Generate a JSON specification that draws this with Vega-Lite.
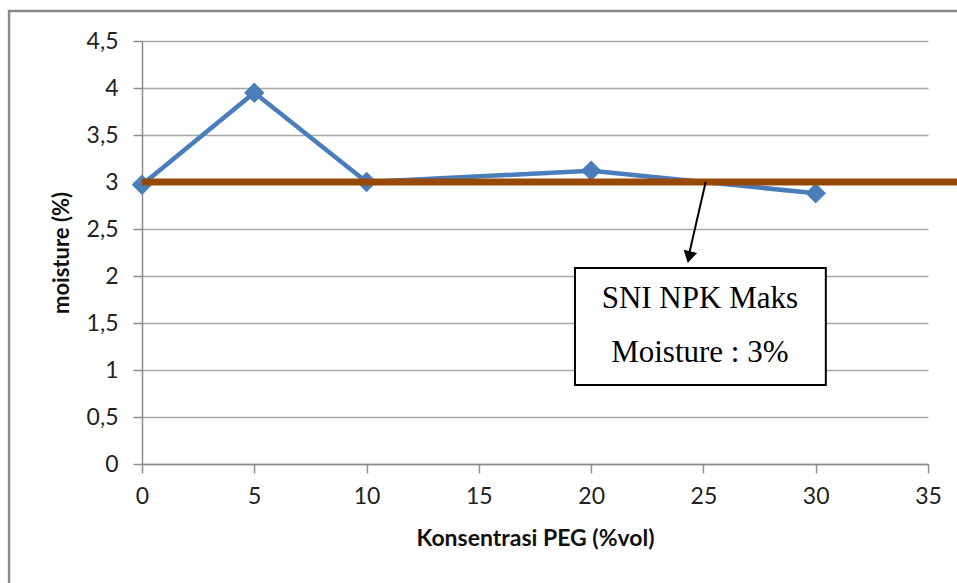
{
  "$schema": "https://vega.github.io/schema/vega-lite/v6.json",
  "autosize": "none",
  "width": 786,
  "height": 423,
  "padding": {"left": 142, "top": 41, "right": 29, "bottom": 119},
  "background": "white",
  "config": {
    "view": {"stroke": null},
    "axis": {
      "labelFont": "Lato",
      "titleFont": "Lato",
      "labelColor": "#222",
      "titleColor": "#111",
      "domainColor": "#8c8c8c",
      "tickColor": "#8c8c8c",
      "domainWidth": 1.5,
      "tickWidth": 1.5,
      "tickSize": 9,
      "labelFlush": false
    }
  },
  "datasets": {
    "moisture": [
      {"peg": 0, "moisture": 2.97},
      {"peg": 5, "moisture": 3.95},
      {"peg": 10, "moisture": 3.0},
      {"peg": 20, "moisture": 3.12},
      {"peg": 30, "moisture": 2.88}
    ],
    "limit": [{"x0": 0, "x1": 36.3, "moisture": 3}],
    "frame": [{"x0": -5.92, "x1": 40, "y0": -2, "y1": 4.82}],
    "arrow": [{"xa": 25.1, "ya": 3.0, "xb": 24.33, "yb": 2.2, "xh": 24.36, "yh": 2.2}],
    "box": [{"x0": 19.28, "x1": 30.45, "y0": 0.84, "y1": 2.085}],
    "note": [
      {"x": 24.84, "y": 1.76, "text": "SNI NPK Maks"},
      {"x": 24.84, "y": 1.18, "text": "Moisture : 3%"}
    ]
  },
  "layer": [
    {
      "data": {"name": "frame"},
      "mark": {"type": "rect", "fill": null, "stroke": "#8a8a8a", "strokeWidth": 2.5, "clip": false},
      "encoding": {
        "x": {"field": "x0", "type": "quantitative", "scale": {"domain": [0, 35], "nice": false}},
        "x2": {"field": "x1"},
        "y": {"field": "y0", "type": "quantitative", "scale": {"domain": [0, 4.5], "nice": false}},
        "y2": {"field": "y1"}
      }
    },
    {
      "data": {"name": "moisture"},
      "mark": {"type": "line", "color": "#4a7ebb", "strokeWidth": 4.5},
      "encoding": {
        "x": {
          "field": "peg", "type": "quantitative",
          "scale": {"domain": [0, 35], "nice": false},
          "axis": {
            "title": "Konsentrasi PEG (%vol)",
            "values": [0, 5, 10, 15, 20, 25, 30, 35],
            "grid": false,
            "labelFontSize": 23,
            "labelPadding": 12,
            "titleFontSize": 23,
            "titleFontWeight": "bold",
            "titlePadding": 19
          }
        },
        "y": {
          "field": "moisture", "type": "quantitative",
          "scale": {"domain": [0, 4.5], "nice": false},
          "axis": {
            "title": "moisture (%)",
            "values": [0, 0.5, 1, 1.5, 2, 2.5, 3, 3.5, 4, 4.5],
            "labelExpr": "replace(toString(datum.value), '.', ',')",
            "grid": true,
            "gridColor": "#a6a6a6",
            "gridWidth": 1.5,
            "labelFontSize": 23,
            "labelPadding": 15,
            "titleFontSize": 22,
            "titleFontWeight": "bold",
            "titlePadding": 13
          }
        }
      }
    },
    {
      "data": {"name": "moisture"},
      "mark": {"type": "point", "shape": "diamond", "filled": true, "color": "#4a7ebb", "size": 420, "opacity": 1},
      "encoding": {
        "x": {"field": "peg", "type": "quantitative"},
        "y": {"field": "moisture", "type": "quantitative"}
      }
    },
    {
      "data": {"name": "limit"},
      "mark": {"type": "rule", "color": "#984807", "strokeWidth": 7, "clip": false},
      "encoding": {
        "x": {"field": "x0", "type": "quantitative"},
        "x2": {"field": "x1"},
        "y": {"field": "moisture", "type": "quantitative"}
      }
    },
    {
      "data": {"name": "arrow"},
      "mark": {"type": "rule", "color": "black", "strokeWidth": 2},
      "encoding": {
        "x": {"field": "xa", "type": "quantitative"},
        "x2": {"field": "xb"},
        "y": {"field": "ya", "type": "quantitative"},
        "y2": {"field": "yb"}
      }
    },
    {
      "data": {"name": "arrow"},
      "mark": {"type": "point", "shape": "triangle-down", "filled": true, "color": "black", "size": 190, "angle": 13, "opacity": 1},
      "encoding": {
        "x": {"field": "xh", "type": "quantitative"},
        "y": {"field": "yh", "type": "quantitative"}
      }
    },
    {
      "data": {"name": "box"},
      "mark": {"type": "rect", "fill": "white", "stroke": "black", "strokeWidth": 2},
      "encoding": {
        "x": {"field": "x0", "type": "quantitative"},
        "x2": {"field": "x1"},
        "y": {"field": "y0", "type": "quantitative"},
        "y2": {"field": "y1"}
      }
    },
    {
      "data": {"name": "note"},
      "mark": {"type": "text", "font": "Liberation Serif", "fontSize": 31, "color": "black", "align": "center", "baseline": "middle"},
      "encoding": {
        "x": {"field": "x", "type": "quantitative"},
        "y": {"field": "y", "type": "quantitative"},
        "text": {"field": "text"}
      }
    }
  ]
}
